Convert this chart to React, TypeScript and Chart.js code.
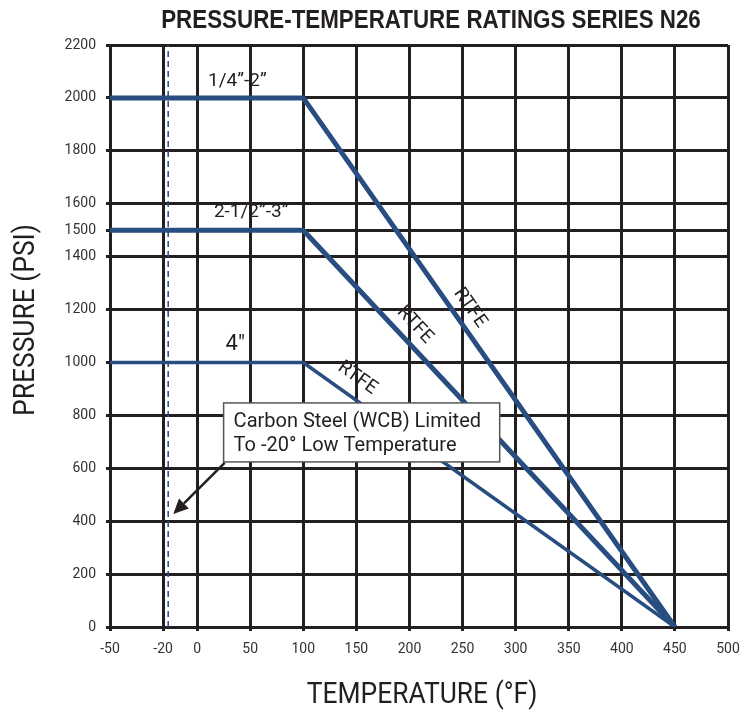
import React, { useEffect, useRef } from 'react';
import { Chart, registerables } from 'chart.js';

Chart.register(...registerables);

// ---------- data ----------
const TITLE = 'PRESSURE-TEMPERATURE RATINGS SERIES N26';
const X_TITLE = 'TEMPERATURE (°F)';
const Y_TITLE = 'PRESSURE (PSI)';

const X_TICKS = [-50, -20, 0, 50, 100, 150, 200, 250, 300, 350, 400, 450, 500];
const Y_TICKS = [0, 200, 400, 600, 800, 1000, 1200, 1400, 1500, 1600, 1800, 2000, 2200];

const SERIES_NAMES = ['1/4\u201D-2\u201D', '2-1/2\u201D-3\u201D', '4"'];
const SERIES_TEMPS = [-50, 100, 450];
const SERIES_SMALL = [2000, 2000, 0];
const SERIES_MID = [1500, 1500, 0];
const SERIES_LARGE = [1000, 1000, 0];

const LOW_LIMIT_TEMP = -17;

// label anchors (temperature, pressure)
const NAME_T = [38, 51, 36];
const NAME_P = [2064, 1569, 1066];
const RTFE_T = [257, 205, 151];
const RTFE_P = [1206, 1142, 941];

const NOTE_LINES = ['Carbon Steel (WCB) Limited', 'To -20° Low Temperature'];

// ---------- styles ----------
const BLUE = '#284d80';
const GRID = '#231f20';
const TEXT = '#333333';
const INK = '#231f20';
const FONT = 'Roboto, "Liberation Sans", sans-serif';

// the left part of the temperature axis is drawn compressed in the original
function axisX(t: number): number {
  if (t >= 0) return t;
  if (t >= -20) return t * 1.6;
  return -32 + (t + 20) * (50 / 30);
}

const series = [SERIES_SMALL, SERIES_MID, SERIES_LARGE];

function drawScaledText(ctx: any, text: string, cx: number, cy: number, rot: number, sx: number) {
  ctx.save();
  ctx.translate(cx, cy);
  ctx.rotate(rot);
  ctx.scale(sx, 1);
  ctx.textAlign = 'center';
  ctx.textBaseline = 'middle';
  ctx.fillText(text, 0, 0);
  ctx.restore();
}

const overlayPlugin = {
  id: 'overlay',
  afterDraw(chart: any) {
    const { ctx, chartArea } = chart;
    ctx.save();
    ctx.fillStyle = INK;
    // main title (condensed bold)
    ctx.font = 'bold 26px "Liberation Sans", Arial, sans-serif';
    drawScaledText(ctx, TITLE, (chartArea.left + chartArea.right) / 2 + 12, 21, 0, 0.86);
    // axis titles (narrow)
    ctx.font = '30px ' + FONT;
    drawScaledText(ctx, X_TITLE, (chartArea.left + chartArea.right) / 2 + 3, 695, 0, 0.88);
    drawScaledText(ctx, Y_TITLE, 26, (chartArea.top + chartArea.bottom) / 2 - 16, -Math.PI / 2, 0.88);
    ctx.restore();
  },
  afterDatasetsDraw(chart: any) {
    const { ctx } = chart;
    const x = chart.scales.x;
    const y = chart.scales.y;
    const px = (t: number) => x.getPixelForValue(axisX(t));
    const py = (p: number) => y.getPixelForValue(p);

    ctx.save();
    // series names
    ctx.fillStyle = INK;
    ctx.textAlign = 'center';
    ctx.textBaseline = 'middle';
    SERIES_NAMES.forEach((n, i) => {
      ctx.font = (i === 2 ? '22px ' : '19px ') + FONT;
      ctx.fillText(n, px(NAME_T[i]), py(NAME_P[i]));
    });

    // RTFE labels along the sloped segments
    ctx.font = '19px ' + FONT;
    series.forEach((s, i) => {
      const ang = Math.atan2(py(s[2]) - py(s[1]), px(SERIES_TEMPS[2]) - px(SERIES_TEMPS[1]));
      ctx.save();
      ctx.translate(px(RTFE_T[i]), py(RTFE_P[i]));
      ctx.rotate(ang);
      ctx.fillText('RTFE', 0, 0);
      ctx.restore();
    });

    // note box
    const bx1 = px(25), bx2 = px(285), by1 = py(847), by2 = py(624);
    ctx.fillStyle = '#ffffff';
    ctx.fillRect(bx1, by1, bx2 - bx1, by2 - by1);
    ctx.strokeStyle = '#555555';
    ctx.lineWidth = 1.5;
    ctx.strokeRect(bx1, by1, bx2 - bx1, by2 - by1);
    ctx.fillStyle = INK;
    ctx.font = '20px ' + FONT;
    ctx.textAlign = 'left';
    ctx.textBaseline = 'alphabetic';
    ctx.fillText(NOTE_LINES[0], bx1 + 10, by1 + 24);
    ctx.fillText(NOTE_LINES[1], bx1 + 10, by1 + 48);

    // arrow
    const ax1 = bx1 + 1, ay1 = by2 + 1;
    const ax2 = px(-14), ay2 = py(427);
    ctx.strokeStyle = INK;
    ctx.lineWidth = 2.5;
    const ang = Math.atan2(ay2 - ay1, ax2 - ax1);
    const hl = 15, hw = 7;
    const bxh = ax2 - hl * Math.cos(ang), byh = ay2 - hl * Math.sin(ang);
    ctx.beginPath();
    ctx.moveTo(ax1, ay1);
    ctx.lineTo(bxh, byh);
    ctx.stroke();
    ctx.fillStyle = INK;
    ctx.beginPath();
    ctx.moveTo(ax2, ay2);
    ctx.lineTo(bxh + hw * Math.sin(ang), byh - hw * Math.cos(ang));
    ctx.lineTo(bxh - hw * Math.sin(ang), byh + hw * Math.cos(ang));
    ctx.closePath();
    ctx.fill();
    ctx.restore();
  },
};

export default function App() {
  const ref = useRef<HTMLCanvasElement | null>(null);

  useEffect(() => {
    if (!ref.current) return;
    const mk = (vals: number[]) => SERIES_TEMPS.map((t, i) => ({ x: axisX(t), y: vals[i] }));
    const chart = new Chart(ref.current, {
      type: 'line',
      data: {
        datasets: [
          {
            label: 'low',
            data: [{ x: axisX(LOW_LIMIT_TEMP), y: 0 }, { x: axisX(LOW_LIMIT_TEMP), y: 2200 }],
            borderColor: BLUE,
            borderWidth: 1.5,
            borderDash: [6, 4],
            pointRadius: 0,
          },
          { label: SERIES_NAMES[0], data: mk(SERIES_SMALL), borderColor: BLUE, borderWidth: 5, pointRadius: 0, borderJoinStyle: 'miter' },
          { label: SERIES_NAMES[1], data: mk(SERIES_MID), borderColor: BLUE, borderWidth: 5, pointRadius: 0, borderJoinStyle: 'miter' },
          { label: SERIES_NAMES[2], data: mk(SERIES_LARGE), borderColor: BLUE, borderWidth: 3.5, pointRadius: 0, borderJoinStyle: 'miter' },
        ],
      },
      options: {
        responsive: false,
        animation: false,
        devicePixelRatio: 1,
        layout: { padding: { left: 0, right: 22, top: 45, bottom: 0 } },
        plugins: {
          legend: { display: false },
          tooltip: { enabled: false },
          title: { display: false },
        },
        scales: {
          x: {
            type: 'linear',
            min: axisX(-50),
            max: 500,
            afterBuildTicks: (s: any) => {
              s.ticks = X_TICKS.map((t) => ({ value: axisX(t) }));
            },
            afterFit: (s: any) => {
              s.height = 86;
            },
            ticks: {
              autoSkip: false,
              maxRotation: 0,
              padding: 10,
              color: TEXT,
              font: { family: FONT, size: 14 },
              callback: (_v: any, i: number) => String(X_TICKS[i]),
            },
            grid: { color: GRID, lineWidth: 3, tickLength: 4 },
            border: { color: GRID, width: 3 },
          },
          y: {
            type: 'linear',
            min: 0,
            max: 2200,
            afterBuildTicks: (s: any) => {
              s.ticks = Y_TICKS.map((v) => ({ value: v }));
            },
            afterFit: (s: any) => {
              s.width = 110;
            },
            ticks: {
              autoSkip: false,
              padding: 10,
              color: TEXT,
              font: { family: FONT, size: 14 },
              callback: (v: any) => String(v),
            },
            grid: { color: GRID, lineWidth: 3, tickLength: 4 },
            border: { color: GRID, width: 3 },
          },
        },
      },
      plugins: [overlayPlugin],
    } as any);
    return () => chart.destroy();
  }, []);

  return (
    <div style={{ position: 'absolute', left: 0, top: 0, width: 750, height: 713, background: '#fff' }}>
      <canvas ref={ref} width={750} height={713} style={{ display: 'block' }} />
    </div>
  );
}
